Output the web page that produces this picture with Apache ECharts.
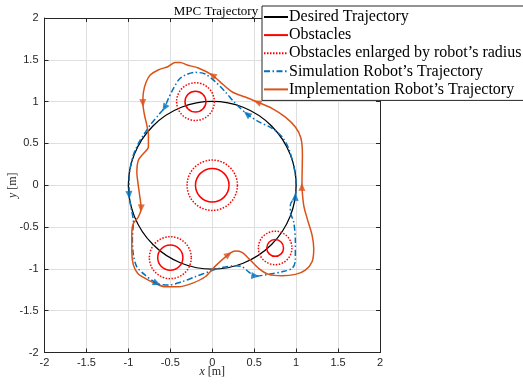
<!DOCTYPE html>
<html>
<head>
<meta charset="utf-8">
<script src="https://cdn.jsdelivr.net/npm/echarts@6/dist/echarts.min.js"></script>
<style>
html, body { margin: 0; padding: 0; background: #fff; }
#main { width: 523px; height: 389px; }
</style>
</head>
<body>
<div id="main"></div>
<script>
// axis ticks (both axes)
var ticks = [-2, -1.5, -1, -0.5, 0, 0.5, 1, 1.5, 2];

// desired trajectory: circle centre + radius
var desired = [[0, 0, 1]];

// obstacles: centre x, centre y, radius; robot radius for the enlarged ones
var obsX = [0, -0.2, -0.5, 0.75];
var obsY = [0, 1.0, -0.866, -0.75];
var obsR = [0.2, 0.125, 0.15, 0.1];
var robotR = 0.1;

// simulation robot trajectory
var simX = [0.991, 0.999, 0.991, 0.959, 0.911, 0.832, 0.713, 0.553, 0.414, 0.275, 0.155, 0.036, -0.084, -0.203, -0.322, -0.402, -0.462, -0.522, -0.570, -0.641, -0.740, -0.820, -0.880, -0.940, -0.979, -0.991, -0.991, -0.967, -0.940, -0.952, -0.940, -0.899, -0.800, -0.660, -0.522, -0.362, -0.203, -0.044, 0.075, 0.275, 0.355, 0.433, 0.513, 0.672, 0.832, 0.952, 0.991, 0.991, 0.971, 0.931, 0.931, 0.991];
var simY = [-0.138, 0.002, 0.122, 0.281, 0.441, 0.580, 0.681, 0.760, 0.852, 0.980, 1.118, 1.238, 1.330, 1.350, 1.318, 1.258, 1.159, 1.039, 0.927, 0.840, 0.720, 0.600, 0.501, 0.361, 0.202, 0.062, -0.117, -0.276, -0.437, -0.635, -0.835, -0.975, -1.074, -1.173, -1.194, -1.154, -1.094, -1.035, -0.994, -0.963, -0.975, -1.035, -1.086, -1.066, -1.035, -0.994, -0.895, -0.676, -0.437, -0.317, -0.237, -0.138];
var simArrows = [0, 8, 18, 26, 33, 42];

// implementation robot trajectory
var implX = [1.069, 1.071, 1.075, 1.057, 0.991, 0.872, 0.716, 0.537, 0.394, 0.239, 0.096, 0, -0.167, -0.299, -0.382, -0.442, -0.525, -0.645, -0.740, -0.788, -0.820, -0.827, -0.808, -0.780, -0.761, -0.761, -0.820, -0.880, -0.899, -0.884, -0.866, -0.848, -0.880, -0.940, -0.959, -0.959, -0.940, -0.887, -0.800, -0.681, -0.561, -0.402, -0.242, -0.084, 0.036, 0.195, 0.275, 0.355, 0.433, 0.553, 0.672, 0.832, 0.991, 1.110, 1.190, 1.210, 1.190, 1.131, 1.090, 1.069];
var implY = [-0.020, 0.122, 0.361, 0.565, 0.696, 0.815, 0.917, 0.995, 1.055, 1.115, 1.234, 1.318, 1.402, 1.438, 1.468, 1.468, 1.420, 1.378, 1.318, 1.234, 1.115, 0.983, 0.840, 0.719, 0.600, 0.457, 0.379, 0.301, 0.158, 0.014, -0.117, -0.276, -0.377, -0.456, -0.556, -0.795, -0.955, -1.054, -1.114, -1.173, -1.214, -1.214, -1.173, -1.094, -0.967, -0.827, -0.787, -0.803, -0.874, -0.994, -1.066, -1.083, -1.066, -1.014, -0.915, -0.755, -0.596, -0.396, -0.237, -0.020];
var implArrows = [0, 7, 11, 21, 31, 45];

var blue = '#0072BD';
var orange = '#D95319';
var red = '#FF0000';
var serif = 'Liberation Serif';
var sans = 'Liberation Sans';

function zip(xs, ys) {
  return xs.map(function (x, i) { return [x, ys[i]]; });
}

// arrow heads: triangle rotated along the path direction
function arrowData(xs, ys, idx) {
  return idx.map(function (i) {
    var n = xs.length;
    var a = Math.max(i - 1, 0), b = Math.min(i + 1, n - 1);
    var ang = Math.atan2(ys[b] - ys[a], xs[b] - xs[a]) * 180 / Math.PI;
    return { value: [xs[i], ys[i]], symbolRotate: ang - 90 };
  });
}

function circleItem(stroke, width, dash) {
  return function (params, api) {
    var c = api.coord([api.value(0), api.value(1)]);
    var r = api.size([api.value(2), 0])[0];
    return {
      type: 'circle',
      shape: { cx: c[0], cy: c[1], r: r },
      style: { fill: 'none', stroke: stroke, lineWidth: width, lineDash: dash }
    };
  };
}

var obsSolid = obsX.map(function (x, i) { return [x, obsY[i], obsR[i]]; });
var obsBig = obsX.map(function (x, i) { return [x, obsY[i], obsR[i] + robotR]; });

var dom = document.getElementById('main');
var myChart = echarts.init(dom, null, { renderer: 'canvas' });

var axisCommon = {
  type: 'value',
  min: ticks[0],
  max: ticks[ticks.length - 1],
  interval: 0.5,
  axisLine: { show: true, onZero: false, lineStyle: { color: '#262626', width: 1 } },
  axisTick: { show: true, inside: true, length: 4, lineStyle: { color: '#262626' } },
  splitLine: { show: false }
};

function mkAxis(extra) {
  return Object.assign({}, axisCommon, extra);
}

var option = {
  animation: false,
  title: {
    text: 'MPC Trajectory',
    left: 211,
    top: 0,
    textAlign: 'center',
    z: 1,
    textStyle: { fontFamily: serif, fontSize: 13, fontWeight: 'normal', color: '#000' }
  },
  legend: {
    orient: 'vertical',
    left: 262,
    top: 6,
    padding: [3, 4, 3, 1],
    itemGap: 2.1,
    itemWidth: 24,
    itemHeight: 12,
    backgroundColor: '#fff',
    borderColor: '#262626',
    borderWidth: 1,
    borderRadius: 0,
    itemStyle: { color: 'rgba(0,0,0,0)', borderWidth: 0, opacity: 0 },
    data: ['Desired Trajectory', 'Obstacles', 'Obstacles enlarged by robot\u2019s radius',
      'Simulation Robot\u2019s Trajectory', 'Implementation Robot\u2019s Trajectory'],
    textStyle: { fontFamily: serif, fontSize: 16, lineHeight: 16, color: '#000', padding: [0, 0, 0, -4] }
  },
  grid: { left: 44.5, top: 18, right: 143, bottom: 36.5, outerBoundsMode: 'none' },
  xAxis: [
    mkAxis({
      position: 'bottom',
      name: '{i|x} [m]',
      nameLocation: 'middle',
      nameGap: 13,
      nameMoveOverlap: false,
      nameTextStyle: {
        fontFamily: serif, fontSize: 12, color: '#262626',
        rich: { i: { fontFamily: serif, fontStyle: 'italic', fontSize: 12, color: '#262626' } }
      },
      axisLabel: { fontFamily: sans, fontSize: 11, color: '#262626', margin: 5 },
      splitLine: { show: true, lineStyle: { color: '#dfdfdf', width: 1 } }
    }),
    mkAxis({ position: 'top', axisLabel: { show: false } })
  ],
  yAxis: [
    mkAxis({
      position: 'left',
      name: '{i|y} [m]',
      nameLocation: 'middle',
      nameGap: 26,
      nameMoveOverlap: false,
      nameTextStyle: {
        fontFamily: serif, fontSize: 12, color: '#262626',
        rich: { i: { fontFamily: serif, fontStyle: 'italic', fontSize: 12, color: '#262626' } }
      },
      axisLabel: { fontFamily: sans, fontSize: 11, color: '#262626', margin: 6 },
      splitLine: { show: true, lineStyle: { color: '#dfdfdf', width: 1 } }
    }),
    mkAxis({ position: 'right', axisLabel: { show: false } })
  ],
  series: [
    // legend proxies
    { name: 'Desired Trajectory', type: 'line', data: [], symbol: 'none', lineStyle: { color: '#000', width: 1.5 }, itemStyle: { color: '#000' } },
    { name: 'Obstacles', type: 'line', data: [], symbol: 'none', lineStyle: { color: red, width: 1.5 }, itemStyle: { color: red } },
    { name: 'Obstacles enlarged by robot\u2019s radius', type: 'line', data: [], symbol: 'none', lineStyle: { color: red, width: 1.5, type: [1.5, 1.5] }, itemStyle: { color: red } },
    // circles drawn through the axes
    { type: 'custom', name: 'desired', data: desired, renderItem: circleItem('#000', 1.3), encode: { x: 0, y: 1 }, silent: true },
    { type: 'custom', name: 'obs', data: obsSolid, renderItem: circleItem(red, 1.5), encode: { x: 0, y: 1 }, silent: true },
    { type: 'custom', name: 'obsBig', data: obsBig, renderItem: circleItem(red, 1.5, [1.5, 1.5]), encode: { x: 0, y: 1 }, silent: true },
    {
      name: 'Simulation Robot\u2019s Trajectory', type: 'line', data: zip(simX, simY),
      symbol: 'none', smooth: 0.3,
      lineStyle: { color: blue, width: 1.5, type: [6, 2.5, 1.5, 2.5] }, itemStyle: { color: blue }
    },
    {
      type: 'scatter', name: 'simArrows', data: arrowData(simX, simY, simArrows),
      symbol: 'triangle', symbolSize: [7, 8], itemStyle: { color: blue }, z: 3
    },
    {
      name: 'Implementation Robot\u2019s Trajectory', type: 'line', data: zip(implX, implY),
      symbol: 'none', smooth: 0.3,
      lineStyle: { color: orange, width: 1.5 }, itemStyle: { color: orange }
    },
    {
      type: 'scatter', name: 'implArrows', data: arrowData(implX, implY, implArrows),
      symbol: 'triangle', symbolSize: [7, 8], itemStyle: { color: orange }, z: 3
    }
  ]
};

if (option && typeof option === 'object') {
  myChart.setOption(option);
}

window.addEventListener('resize', myChart.resize);
</script>
</body>
</html>
